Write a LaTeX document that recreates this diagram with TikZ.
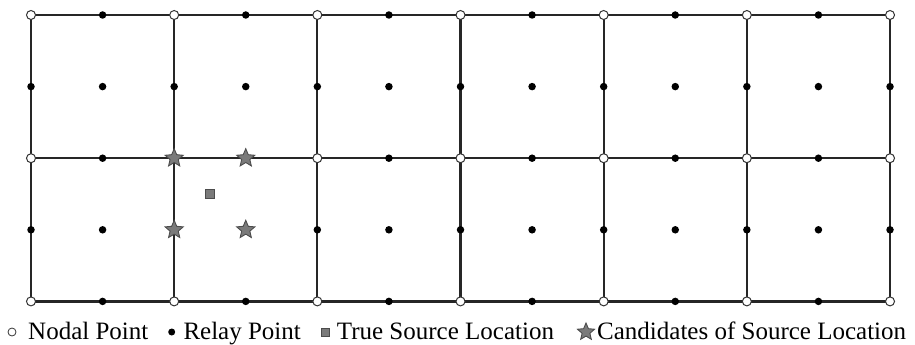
\documentclass[tikz,border=0pt]{standalone}
\usepackage{fontspec}
\setmainfont{Liberation Serif}
\usetikzlibrary{shapes.geometric,calc}
\definecolor{markgray}{HTML}{7A7A7A}
\tikzset{
  gridline/.style={line width=2.3pt, black!85},
  nodal/.style={circle, draw=black!80, fill=white, line width=1pt, inner sep=0pt, minimum size=9pt},
  relay/.style={circle, fill=black, inner sep=0pt, minimum size=7.5pt},
  cand/.style={star, star points=5, star point ratio=2.2, draw=black!70, fill=markgray, line width=0.9pt, inner sep=0pt, minimum size=19pt},
  truesrc/.style={rectangle, draw=black!70, fill=markgray, line width=0.8pt, inner sep=0pt, minimum size=9pt},
  legtext/.style={anchor=base west, inner sep=0pt, font=\fontsize{25}{28}\selectfont},
}
\begin{document}
\begin{tikzpicture}[x=1pt, y=-1pt]
  \useasboundingbox (0,0) rectangle (915,345);
  % grid of nodal points: 7 columns x 3 rows
  \foreach \i in {0,...,6} {
    \foreach \j in {0,1,2} {
      \coordinate (n-\i-\j) at ({31+143.17*\i}, {15+143.2*\j});
    }
  }
  % grid lines
  \foreach \j in {0,1,2} { \draw[gridline] (n-0-\j) -- (n-6-\j); }
  \foreach \i in {0,...,6} { \draw[gridline] (n-\i-0) -- (n-\i-2); }
  % relay points on horizontal edges
  \foreach \i in {0,...,5} {
    \foreach \j in {0,1,2} {
      \node[relay] (rh-\i-\j) at ($(n-\i-\j)!0.5!(n-\the\numexpr\i+1\relax-\j)$) {};
    }
  }
  % relay points on vertical edges and cell centres
  \foreach \i in {0,...,6} {
    \foreach \j in {0,1} {
      \node[relay] (rv-\i-\j) at ($(n-\i-\j)!0.5!(n-\i-\the\numexpr\j+1\relax)$) {};
    }
  }
  \foreach \i in {0,...,5} {
    \foreach \j in {0,1} {
      \node[relay] (rc-\i-\j) at ($(n-\i-\j)!0.5!(n-\the\numexpr\i+1\relax-\the\numexpr\j+1\relax)$) {};
    }
  }
  % nodal points on top
  \foreach \i in {0,...,6} {
    \foreach \j in {0,1,2} {
      \node[nodal] (p-\i-\j) at (n-\i-\j) {};
    }
  }
  % candidates and true source
  \node[cand] (c1) at (n-1-1) {};
  \node[cand] (c2) at (rh-1-1) {};
  \node[cand] (c3) at (rv-1-1) {};
  \node[cand] (c4) at (rc-1-1) {};
  \node[truesrc] (src) at (210,194) {};
  % legend
  \node[nodal, minimum size=8pt, line width=0.8pt] (lg-n) at (12,332) {};
  \node[legtext] (lt-n) at (28,339.5) {Nodal Point};
  \node[relay, minimum size=7pt] (lg-r) at (171.7,332) {};
  \node[legtext] (lt-r) at (183.3,339.5) {Relay Point};
  \node[truesrc, minimum size=8pt] (lg-s) at (325.7,332) {};
  \node[legtext] (lt-s) at (336.7,339.5) {True Source Location};
  \node[cand, minimum size=18pt] (lg-c) at (586,332) {};
  \node[legtext] (lt-c) at (597,339.5) {Candidates of Source Location};
\end{tikzpicture}
\end{document}
